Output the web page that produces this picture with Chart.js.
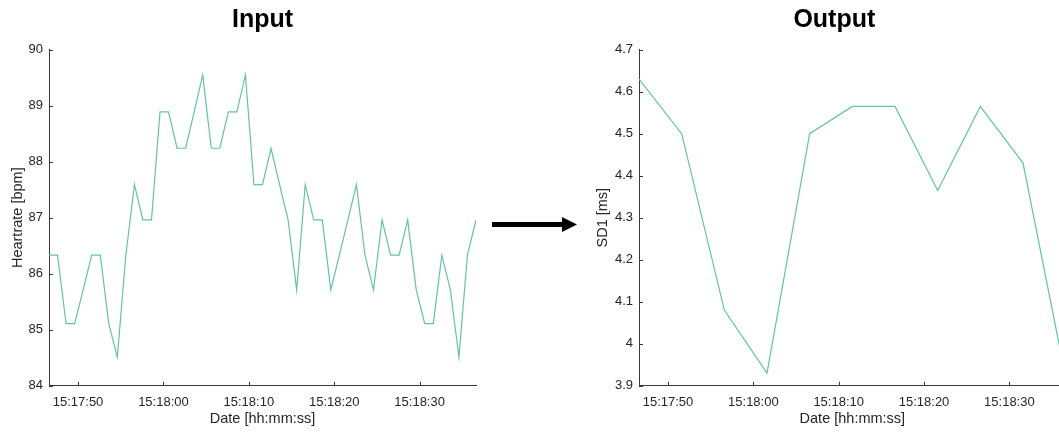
<!DOCTYPE html>
<html>
<head>
<meta charset="utf-8">
<title>Input / Output</title>
<script src="https://cdn.jsdelivr.net/npm/chart.js@4.4.1/dist/chart.umd.min.js"></script>
<style>
  html, body { margin: 0; padding: 0; background: #ffffff; overflow: hidden; }
  #stage { position: relative; width: 1059px; height: 432px; overflow: hidden; }
  canvas { position: absolute; top: 0; }
  #cvIn { left: 0; }
  #cvOut { left: 580px; }
  #arrow { position: absolute; left: 0; top: 0; }
</style>
</head>
<body>
<div id="stage">
  <canvas id="cvIn" width="500" height="432"></canvas>
  <svg id="arrow" width="1059" height="432">
    <line x1="492" y1="224.5" x2="565" y2="224.5" stroke="#000" stroke-width="5"/>
    <polygon points="562,217 577,224.5 562,232" fill="#000"/>
  </svg>
  <canvas id="cvOut" width="500" height="432"></canvas>
</div>
<script>
// Heart rate, resampled once per second
const hrTimes = [
  '15:17:46.6','15:17:47.6','15:17:48.6','15:17:49.6','15:17:50.6','15:17:51.6','15:17:52.6','15:17:53.6',
  '15:17:54.6','15:17:55.6','15:17:56.6','15:17:57.6','15:17:58.6','15:17:59.6','15:18:00.6','15:18:01.6',
  '15:18:02.6','15:18:03.6','15:18:04.6','15:18:05.6','15:18:06.6','15:18:07.6','15:18:08.6','15:18:09.6',
  '15:18:10.6','15:18:11.6','15:18:12.6','15:18:13.6','15:18:14.6','15:18:15.6','15:18:16.6','15:18:17.6',
  '15:18:18.6','15:18:19.6','15:18:20.6','15:18:21.6','15:18:22.6','15:18:23.6','15:18:24.6','15:18:25.6',
  '15:18:26.6','15:18:27.6','15:18:28.6','15:18:29.6','15:18:30.6','15:18:31.6','15:18:32.6','15:18:33.6',
  '15:18:34.6','15:18:35.6','15:18:36.6'
];
const hrValues = [
  86.33, 86.33, 85.11, 85.11, 85.71, 86.33, 86.33, 85.11,
  84.51, 86.33, 87.59, 86.96, 86.96, 88.89, 88.89, 88.24,
  88.24, 88.89, 89.55, 88.24, 88.24, 88.89, 88.89, 89.55,
  87.59, 87.59, 88.24, 87.59, 86.96, 85.71, 87.59, 86.96,
  86.96, 85.71, 86.33, 86.96, 87.59, 86.33, 85.71, 86.96,
  86.33, 86.33, 86.96, 85.71, 85.11, 85.11, 86.33, 85.71,
  84.51, 86.33, 86.96
];

// SD1 computed over 5-second windows
const sd1Times = [
  '15:17:46.6','15:17:51.6','15:17:56.6','15:18:01.6','15:18:06.6','15:18:11.6',
  '15:18:16.6','15:18:21.6','15:18:26.6','15:18:31.6','15:18:36.6'
];
const sd1Values = [4.63, 4.50, 4.08, 3.93, 4.50, 4.565, 4.565, 4.365, 4.565, 4.43, 3.92];

// Axis ticks
const timeTicks = ['15:17:50', '15:18:00', '15:18:10', '15:18:20', '15:18:30'];
const hrTicks = [84, 85, 86, 87, 88, 89, 90];
const sd1Ticks = [3.9, 4.0, 4.1, 4.2, 4.3, 4.4, 4.5, 4.6, 4.7];
const timeRange = ['15:17:46.6', '15:18:36.6'];

const FONT = "'Liberation Sans', Arial, Helvetica, sans-serif";
const INK = '#262626';
const AXIS = '#3a3a3a';
const LINE = '#66c2a5';

function toSec(s) {
  const [h, m, sec] = s.split(':');
  return (+h) * 3600 + (+m) * 60 + parseFloat(sec);
}
function fmtTime(v) {
  const t = Math.round(v);
  const h = Math.floor(t / 3600), m = Math.floor((t % 3600) / 60), s = t % 60;
  const p = n => String(n).padStart(2, '0');
  return p(h) + ':' + p(m) + ':' + p(s);
}

// Short tick marks pointing into the plot area, plus the panel title
const innerTicks = {
  id: 'innerTicks',
  afterDraw(chart, args, opts) {
    const ctx = chart.ctx;
    const { x, y } = chart.scales;
    const a = chart.chartArea;
    ctx.save();
    ctx.strokeStyle = AXIS;
    ctx.lineWidth = 1;
    ctx.beginPath();
    x.ticks.forEach(t => {
      const px = Math.round(x.getPixelForValue(t.value)) + 0.5;
      ctx.moveTo(px, a.bottom);
      ctx.lineTo(px, a.bottom - 4);
    });
    y.ticks.forEach(t => {
      const py = Math.round(y.getPixelForValue(t.value)) + 0.5;
      ctx.moveTo(a.left, py);
      ctx.lineTo(a.left + 4, py);
    });
    ctx.stroke();
    if (opts.text) {
      ctx.fillStyle = '#000';
      ctx.font = 'bold 25px ' + FONT;
      ctx.textAlign = 'center';
      ctx.textBaseline = 'alphabetic';
      ctx.fillText(opts.text, (a.left + a.right) / 2 + (opts.dx || 0), 27);
    }
    ctx.restore();
  }
};

function makeChart(canvasId, times, values, yTicks, yLabel, title, dims) {
  const pts = times.map((t, i) => ({ x: toSec(t), y: values[i] }));
  return new Chart(document.getElementById(canvasId), {
    type: 'line',
    data: {
      datasets: [{
        data: pts,
        borderColor: LINE,
        borderWidth: 1.2,
        pointRadius: 0,
        tension: 0,
        fill: false
      }]
    },
    options: {
      responsive: false,
      animation: false,
      events: [],
      layout: { padding: { top: 49.7, right: dims.right, bottom: 0, left: 0 } },
      plugins: {
        legend: { display: false },
        tooltip: { enabled: false },
        innerTicks: { text: title, dx: dims.titleDx }
      },
      scales: {
        x: {
          type: 'linear',
          min: toSec(timeRange[0]),
          max: toSec(timeRange[1]),
          afterBuildTicks: s => { s.ticks = timeTicks.map(t => ({ value: toSec(t) })); },
          afterFit: s => { s.height = 46.3; },
          grid: { display: true, drawOnChartArea: false, drawTicks: false },
          border: { display: true, color: AXIS, width: 1 },
          ticks: {
            color: INK, padding: 9, maxRotation: 0, autoSkip: false,
            font: { family: FONT, size: 13 },
            callback: v => fmtTime(v)
          },
          title: {
            display: true, text: 'Date [hh:mm:ss]', color: INK,
            font: { family: FONT, size: 14.5 },
            padding: { top: 0, bottom: 4.3 }
          }
        },
        y: {
          type: 'linear',
          min: yTicks[0],
          max: yTicks[yTicks.length - 1],
          afterBuildTicks: s => { s.ticks = yTicks.map(v => ({ value: v })); },
          afterFit: s => { s.width = dims.yWidth; },
          grid: { display: true, drawOnChartArea: false, drawTicks: false },
          border: { display: true, color: AXIS, width: 1 },
          ticks: {
            color: INK, padding: 6,
            font: { family: FONT, size: 13 },
            callback: v => String(Math.round(v * 10) / 10)
          },
          title: {
            display: true, text: yLabel, color: INK,
            font: { family: FONT, size: 14.5 },
            padding: { top: dims.yTitlePad, bottom: 0 }
          }
        }
      }
    },
    plugins: [innerTicks]
  });
}

makeChart('cvIn', hrTimes, hrValues, hrTicks, 'Heartrate [bpm]', 'Input',
  { right: 24, yWidth: 49, yTitlePad: 8.8, titleDx: 0 });
makeChart('cvOut', sd1Times, sd1Values, sd1Ticks, 'SD1 [ms]', 'Output',
  { right: 14.3, yWidth: 59, yTitlePad: 14.6, titleDx: -18 });
</script>
</body>
</html>
